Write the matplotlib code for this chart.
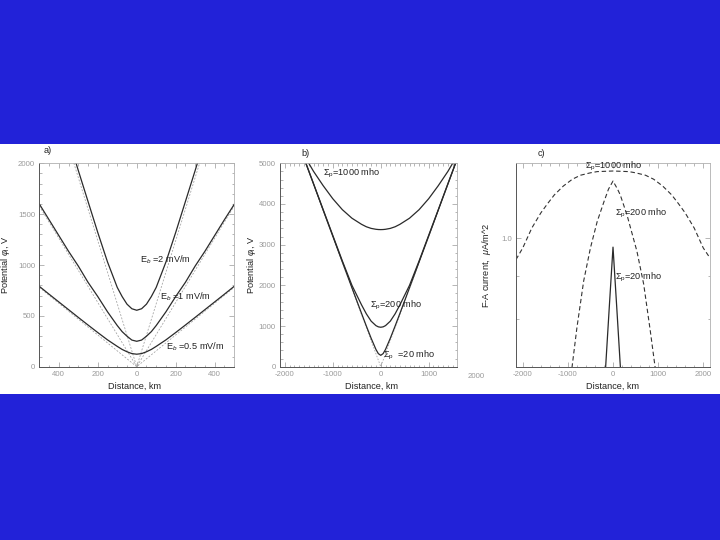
import matplotlib
matplotlib.use("Agg")
import matplotlib.pyplot as plt
from matplotlib.patches import Rectangle
from matplotlib.ticker import MultipleLocator, FixedLocator, FixedFormatter, NullFormatter
import matplotlib.transforms as mtransforms

plt.rcParams['font.family'] = ['Liberation Sans', 'DejaVu Sans']
plt.rcParams['mathtext.fontset'] = 'custom'
plt.rcParams['mathtext.rm'] = 'Liberation Sans'
plt.rcParams['mathtext.it'] = 'Liberation Sans:italic'
plt.rcParams['mathtext.sf'] = 'Liberation Sans'
plt.rcParams['axes.unicode_minus'] = False

# =============================================================================
# DATA
# =============================================================================
# --- a) potential vs distance for three background fields ---
dist_a_e2 = [-340, -300, -250, -200, -150, -100, -75, -50, -25, 0,
             25, 50, 75, 100, 150, 200, 250, 300, 340]
phi_e2 = [2180, 1930, 1625, 1320, 1030, 780, 690, 615, 570, 555,
          570, 615, 690, 780, 1030, 1320, 1625, 1930, 2180]

dist_a = [-500, -450, -400, -350, -300, -250, -200, -150, -100, -75, -50, -25, 0,
          25, 50, 75, 100, 150, 200, 250, 300, 350, 400, 450, 500]
phi_e1 = [1600, 1445, 1290, 1135, 990, 830, 690, 540, 405, 345, 300, 262, 250,
          262, 300, 345, 405, 540, 690, 830, 990, 1135, 1290, 1445, 1595]
phi_e05 = [790, 713, 637, 561, 485, 410, 336, 264, 200, 170, 147, 129, 123,
           129, 147, 170, 200, 264, 336, 410, 485, 561, 637, 713, 790]

# dotted asymptotes (straight lines through the origin)
asym_a_x = [-500, 0, 500]
asym_e2 = [3100, 0, 3100]
asym_e1 = [1580, 0, 1580]
asym_e05 = [780, 0, 780]

# --- b) potential vs distance for three conductances ---
dist_b = [-2000, -1600, -1400, -1200, -1000, -800, -600, -400, -300, -200, -100, -50, 0,
          50, 100, 200, 300, 400, 600, 800, 1000, 1200, 1400, 1600, 2000]
phi_s20 = [6400, 5125, 4490, 3850, 3210, 2575, 1940, 1310, 1000, 700, 425, 322, 280,
           322, 425, 700, 1000, 1310, 1940, 2575, 3210, 3850, 4490, 5125, 6400]
phi_s200 = [6400, 5130, 4495, 3860, 3230, 2600, 2000, 1520, 1300, 1120, 1010, 980, 970,
            980, 1010, 1120, 1300, 1520, 2000, 2600, 3230, 3860, 4495, 5130, 6400]
phi_s1000 = [5900, 5200, 4800, 4450, 4130, 3860, 3650, 3500, 3440, 3400, 3378, 3372, 3370,
             3372, 3378, 3400, 3440, 3500, 3650, 3860, 4130, 4450, 4800, 5200, 5900]

asym_b_x = [-2000, 0, 2000]
asym_b = [6400, 0, 6400]

# --- c) field-aligned current ---
dist_c_1000 = [-2150, -2000, -1800, -1600, -1450, -1300, -1100, -900, -720, -500, -350, 0,
               350, 500, 720, 900, 1100, 1300, 1450, 1600, 1800, 2000, 2150]
fac_1000 = [0.942, 0.973, 1.028, 1.072, 1.100, 1.127, 1.155, 1.177, 1.190, 1.198, 1.202, 1.204,
            1.202, 1.198, 1.190, 1.177, 1.155, 1.127, 1.100, 1.072, 1.028, 0.973, 0.946]

dist_c_200 = [-910, -800, -650, -500, -350, -200, -100, 0, 100, 160, 310, 530, 680, 825, 935]
fac_200 = [0.698, 0.780, 0.888, 0.973, 1.047, 1.106, 1.145, 1.171, 1.145, 1.127, 1.066,
           0.964, 0.880, 0.774, 0.698]

dist_c_20 = [-170, -80, 0, 80, 170]
fac_20 = [0.690, 0.830, 0.975, 0.830, 0.690]

# =============================================================================
# STYLE
# =============================================================================
BG_BLUE = '#2222d8'
CURVE = '#2a2a2a'
ASYM = '#a0a0a0'
TICKCOL = '#9a9a9a'
TXT = '#222222'
FS_TXT = 6.6
FS_TICK = 5.6


def style_axes(ax):
    ax.set_facecolor('white')
    for side in ['left', 'bottom']:
        ax.spines[side].set_color('#555555')
        ax.spines[side].set_linewidth(0.7)
    for side in ['top', 'right']:
        ax.spines[side].set_color('#b0b0b0')
        ax.spines[side].set_linewidth(0.6)
    ax.tick_params(which='both', direction='in', top=True, right=True,
                   colors='#999999', labelcolor=TICKCOL, labelsize=FS_TICK, width=0.5)
    ax.tick_params(which='major', length=3.5, pad=3)
    ax.tick_params(which='minor', length=1.8)


fig = plt.figure(figsize=(7.2, 5.4), dpi=100)
fig.patch.set_facecolor(BG_BLUE)
fig.add_artist(Rectangle((0, 0.2704), 1, 0.4629, transform=fig.transFigure,
                         facecolor='white', edgecolor='none', zorder=0))

ax_a = fig.add_axes([0.0546, 0.3209, 0.2706, 0.3767])
ax_b = fig.add_axes([0.3889, 0.3209, 0.2458, 0.3767])
ax_c = fig.add_axes([0.7167, 0.3209, 0.2694, 0.3767])

# --- a) ---
ax = ax_a
style_axes(ax)
for yv in [asym_e2, asym_e1, asym_e05]:
    ax.plot(asym_a_x, yv, color=ASYM, lw=0.55, ls=(0, (2.5, 2)))
ax.plot(dist_a_e2, phi_e2, color=CURVE, lw=0.9)
ax.plot(dist_a, phi_e1, color=CURVE, lw=0.9)
ax.plot(dist_a, phi_e05, color=CURVE, lw=0.9)
ax.set_xlim(-500, 500)
ax.set_ylim(0, 2000)
ax.xaxis.set_major_locator(FixedLocator([-400, -200, 0, 200, 400]))
ax.xaxis.set_major_formatter(FixedFormatter(['400', '200', '0', '200', '400']))
ax.xaxis.set_minor_locator(MultipleLocator(50))
ax.yaxis.set_major_locator(MultipleLocator(500))
ax.yaxis.set_minor_locator(MultipleLocator(100))
ax.text(18, 1055, r'E$_b$ =2 mV/m', fontsize=FS_TXT, color=TXT, va='center')
ax.text(120, 692, r'E$_b$ =1 mV/m', fontsize=FS_TXT, color=TXT, va='center')
ax.text(151, 198, r'E$_b$ =0.5 mV/m', fontsize=FS_TXT, color=TXT, va='center')
ax.text(0.02, 1.065, 'a)', transform=ax.transAxes, fontsize=FS_TXT, color=TXT, va='center')
ax.set_xlabel('Distance, km', fontsize=FS_TXT, color=TXT)
ax.set_ylabel(r'Potential $\varphi_\mathrm{i}$, V', fontsize=FS_TXT, color=TXT, va='center')
ax.xaxis.set_label_coords(0.49, -0.072)
ax.yaxis.set_label_coords(-0.172, 0.5)

# --- b) ---
ax = ax_b
style_axes(ax)
ax.plot(asym_b_x, asym_b, color=ASYM, lw=0.55, ls=(0, (2, 2)))
ax.plot(dist_b, phi_s20, color=CURVE, lw=0.9)
ax.plot(dist_b, phi_s200, color=CURVE, lw=0.9)
ax.plot(dist_b, phi_s1000, color=CURVE, lw=0.9)
ax.set_xlim(-2100, 1590)
ax.set_ylim(0, 5000)
ax.xaxis.set_major_locator(FixedLocator([-2000, -1000, 0, 1000]))
ax.xaxis.set_minor_locator(MultipleLocator(100))
ax.yaxis.set_major_locator(MultipleLocator(1000))
ax.yaxis.set_minor_locator(MultipleLocator(200))
# the 2000 label of the scan sits just past the cut frame
trans = mtransforms.blended_transform_factory(ax.transData, ax.transAxes)
ax.text(2000, -0.05, '2000', transform=trans, fontsize=FS_TICK, color=TICKCOL,
        ha='center', va='center', clip_on=False)
ax.text(-1200, 4740, r'$\Sigma_\mathrm{p}$=1000 mho', fontsize=FS_TXT, color=TXT, va='center')
ax.text(-230, 1512, r'$\Sigma_\mathrm{p}$=200 mho', fontsize=FS_TXT, color=TXT, va='center')
ax.text(50, 287, r'$\Sigma_\mathrm{p}$  =20 mho', fontsize=FS_TXT, color=TXT, va='center')
ax.text(0.12, 1.05, 'b)', transform=ax.transAxes, fontsize=FS_TXT, color=TXT, va='center')
ax.set_xlabel('Distance, km', fontsize=FS_TXT, color=TXT)
ax.set_ylabel(r'Potential $\varphi_\mathrm{i}$, V', fontsize=FS_TXT, color=TXT, va='center')
ax.xaxis.set_label_coords(0.52, -0.072)
ax.yaxis.set_label_coords(-0.16, 0.5)

# --- c) ---
ax = ax_c
style_axes(ax)
ax.plot(dist_c_1000, fac_1000, color='#333333', lw=0.8, dashes=(4, 2.5))
ax.plot(dist_c_200, fac_200, color='#333333', lw=0.8, dashes=(4, 2.5))
ax.plot(dist_c_20, fac_20, color=CURVE, lw=0.9)
ax.set_yscale('log')
ax.set_xlim(-2150, 2150)
ax.set_ylim(0.7, 1.23)
ax.xaxis.set_major_locator(FixedLocator([-2000, -1000, 0, 1000, 2000]))
ax.xaxis.set_minor_locator(MultipleLocator(200))
ax.yaxis.set_major_locator(FixedLocator([1.0]))
ax.yaxis.set_major_formatter(FixedFormatter(['1.0']))
ax.yaxis.set_minor_locator(FixedLocator([0.7, 0.8, 0.9]))
ax.yaxis.set_minor_formatter(NullFormatter())
ax.text(-612, 1.218, r'$\Sigma_\mathrm{p}$=1000 mho', fontsize=FS_TXT, color=TXT, va='center')
ax.text(51, 1.071, r'$\Sigma_\mathrm{p}$=200 mho', fontsize=FS_TXT, color=TXT, va='center')
ax.text(51, 0.896, r'$\Sigma_\mathrm{p}$=20 mho', fontsize=FS_TXT, color=TXT, va='center')
ax.text(0.11, 1.05, 'c)', transform=ax.transAxes, fontsize=FS_TXT, color=TXT, va='center')
ax.set_xlabel('Distance, km', fontsize=FS_TXT, color=TXT)
ax.set_ylabel(r'F-A current,  $\mu$A/m^2', fontsize=FS_TXT, color=TXT, va='center')
ax.xaxis.set_label_coords(0.5, -0.072)
ax.yaxis.set_label_coords(-0.15, 0.5)

fig.savefig('out.png', dpi=100, facecolor=fig.get_facecolor())
